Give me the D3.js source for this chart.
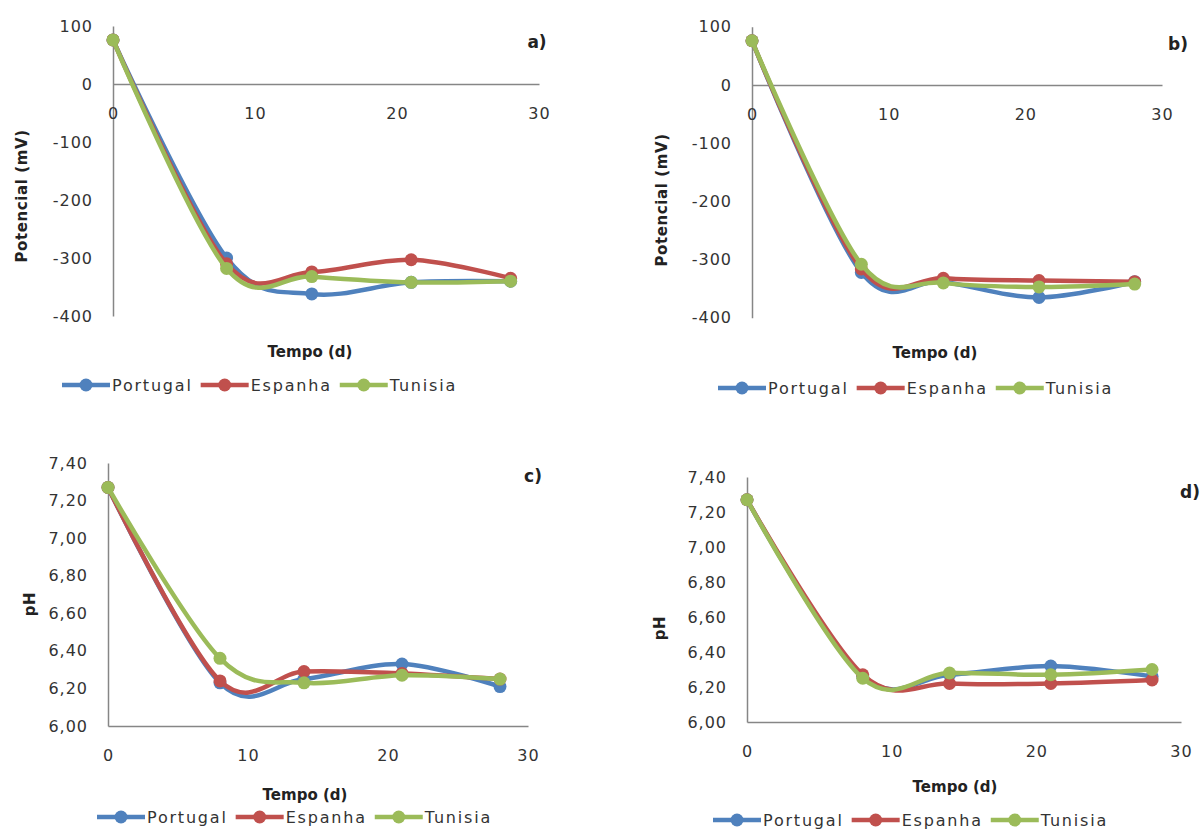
<!DOCTYPE html>
<html>
<head>
<meta charset="utf-8">
<script src="https://cdn.jsdelivr.net/npm/d3@7"></script>
<style>
  body { margin: 0; background: #fff; }
  svg { display: block; }
  .tick text { font-family: "DejaVu Sans", sans-serif; font-size: 16px; fill: #333; letter-spacing: 1px; }
  .axis path.domain { stroke: #868686; stroke-width: 1.5; }
  .title { font-family: "DejaVu Sans", sans-serif; font-weight: bold; font-size: 15px; fill: #222; }
  .tag { font-family: "DejaVu Sans", sans-serif; font-weight: bold; font-size: 17px; fill: #222; }
  .legend text { font-family: "DejaVu Sans", sans-serif; font-size: 16px; fill: #333; letter-spacing: 1.8px; }
</style>
</head>
<body>
<main></main>
<script>
// days of measurement
const days = [0, 8, 14, 21, 28];
const countries = ["Portugal", "Espanha", "Tunisia"];
const colors = ["#4F81BD", "#C0504D", "#9BBB59"];

// a) potencial
const potA_portugal = [76, -300, -362, -342, -340];
const potA_espanha  = [76, -310, -324, -303, -335];
const potA_tunisia  = [76, -318, -332, -342, -340];
// b) potencial
const potB_portugal = [76, -322, -338, -365, -338];
const potB_espanha  = [76, -316, -332, -336, -338];
const potB_tunisia  = [76, -308, -340, -347, -342];
// c) pH
const phC_portugal = [7.27, 6.23, 6.25, 6.33, 6.21];
const phC_espanha  = [7.27, 6.24, 6.29, 6.28, 6.25];
const phC_tunisia  = [7.27, 6.36, 6.23, 6.27, 6.25];
// d) pH
const phD_portugal = [7.27, 6.26, 6.27, 6.32, 6.26];
const phD_espanha  = [7.27, 6.27, 6.22, 6.22, 6.24];
const phD_tunisia  = [7.27, 6.25, 6.28, 6.27, 6.30];

const xTicks = [0, 10, 20, 30];
const potTicks = [100, 0, -100, -200, -300, -400];
const phTicks = [6.0, 6.2, 6.4, 6.6, 6.8, 7.0, 7.2, 7.4];

const svgSize = { width: 1200, height: 834 };

const commaFmt = d3.formatLocale({ decimal: ",", thousands: ".", grouping: [3], currency: ["", ""], minus: "-" });

const panels = [
  { tag: "a)", series: [potA_portugal, potA_espanha, potA_tunisia], yTicks: potTicks,
    x: [113, 539], y: [84 + 400 * 0.58, 84 - 100 * 0.58], yDomain: [-400, 100], xAxisAt: 0,
    fmt: d => String(d), ylabel: "Potencial (mV)", ylabelPos: [22, 196], xlabelPos: [310, 352],
    tagPos: [537, 42], legend: [62, 385] },
  { tag: "b)", series: [potB_portugal, potB_espanha, potB_tunisia], yTicks: potTicks,
    x: [752, 1162], y: [85 + 400 * 0.582, 85 - 100 * 0.582], yDomain: [-400, 100], xAxisAt: 0,
    fmt: d => String(d), ylabel: "Potencial (mV)", ylabelPos: [662, 200], xlabelPos: [935, 353],
    tagPos: [1178, 44], legend: [718, 388] },
  { tag: "c)", series: [phC_portugal, phC_espanha, phC_tunisia], yTicks: phTicks,
    x: [108, 528], y: [726, 463], yDomain: [6.0, 7.4], xAxisAt: 6.0,
    fmt: commaFmt.format(".2f"), ylabel: "pH", ylabelPos: [30, 604], xlabelPos: [305, 795],
    tagPos: [533, 476], legend: [97, 817] },
  { tag: "d)", series: [phD_portugal, phD_espanha, phD_tunisia], yTicks: phTicks,
    x: [747, 1181], y: [722, 477], yDomain: [6.0, 7.4], xAxisAt: 6.0,
    fmt: commaFmt.format(".2f"), ylabel: "pH", ylabelPos: [660, 628], xlabelPos: [955, 787],
    tagPos: [1190, 492], legend: [713, 820] }
];

const svg = d3.select("main").append("svg")
  .attr("width", svgSize.width)
  .attr("height", svgSize.height);

const drawPanel = (p) => {
  const g = svg.append("g");
  const xScale = d3.scaleLinear().domain([0, 30]).range(p.x);
  const yScale = d3.scaleLinear().domain(p.yDomain).range(p.y);

  // y axis
  g.append("g")
   .attr("class", "axis")
   .attr("transform", `translate(${p.x[0]},0)`)
   .call(d3.axisLeft(yScale).tickValues(p.yTicks).tickFormat(p.fmt).tickSize(0).tickPadding(20));

  // x axis (crosses at 0 for potencial, at bottom for pH)
  g.append("g")
   .attr("class", "axis")
   .attr("transform", `translate(0,${yScale(p.xAxisAt)})`)
   .call(d3.axisBottom(xScale).tickValues(xTicks).tickSize(0).tickPadding(24));

  const line = d3.line()
    .x((d, i) => xScale(days[i]))
    .y(d => yScale(d))
    .curve(d3.curveCardinal.tension(0));

  p.series.forEach((vals, k) => {
    g.append("path")
     .datum(vals)
     .attr("d", line)
     .attr("fill", "none")
     .attr("stroke", colors[k])
     .attr("stroke-width", 4.5)
     .attr("stroke-linejoin", "round");
    g.selectAll(null)
     .data(vals)
     .enter()
     .append("circle")
     .attr("cx", (d, i) => xScale(days[i]))
     .attr("cy", d => yScale(d))
     .attr("r", 6.5)
     .attr("fill", colors[k]);
  });

  g.append("text")
   .attr("class", "title")
   .attr("text-anchor", "middle")
   .attr("transform", `translate(${p.ylabelPos[0]},${p.ylabelPos[1]}) rotate(-90)`)
   .attr("dy", "0.35em")
   .style("letter-spacing", "0.6px")
   .text(p.ylabel);

  g.append("text")
   .attr("class", "title")
   .attr("text-anchor", "middle")
   .attr("x", p.xlabelPos[0])
   .attr("y", p.xlabelPos[1])
   .attr("dy", "0.35em")
   .text("Tempo (d)");

  g.append("text")
   .attr("class", "tag")
   .attr("text-anchor", "middle")
   .attr("x", p.tagPos[0])
   .attr("y", p.tagPos[1])
   .attr("dy", "0.35em")
   .text(p.tag);

  // legend
  const lg = g.append("g").attr("class", "legend");
  let cx = p.legend[0];
  const ly = p.legend[1];
  countries.forEach((name, k) => {
    lg.append("line")
      .attr("x1", cx).attr("x2", cx + 48)
      .attr("y1", ly).attr("y2", ly)
      .attr("stroke", colors[k]).attr("stroke-width", 4.5);
    lg.append("circle")
      .attr("cx", cx + 24).attr("cy", ly).attr("r", 6.5)
      .attr("fill", colors[k]);
    const t = lg.append("text")
      .attr("x", cx + 50).attr("y", ly).attr("dy", "0.35em")
      .text(name);
    cx += 50 + t.node().getComputedTextLength() + 8;
  });
};

panels.forEach(drawPanel);
</script>
</body>
</html>
